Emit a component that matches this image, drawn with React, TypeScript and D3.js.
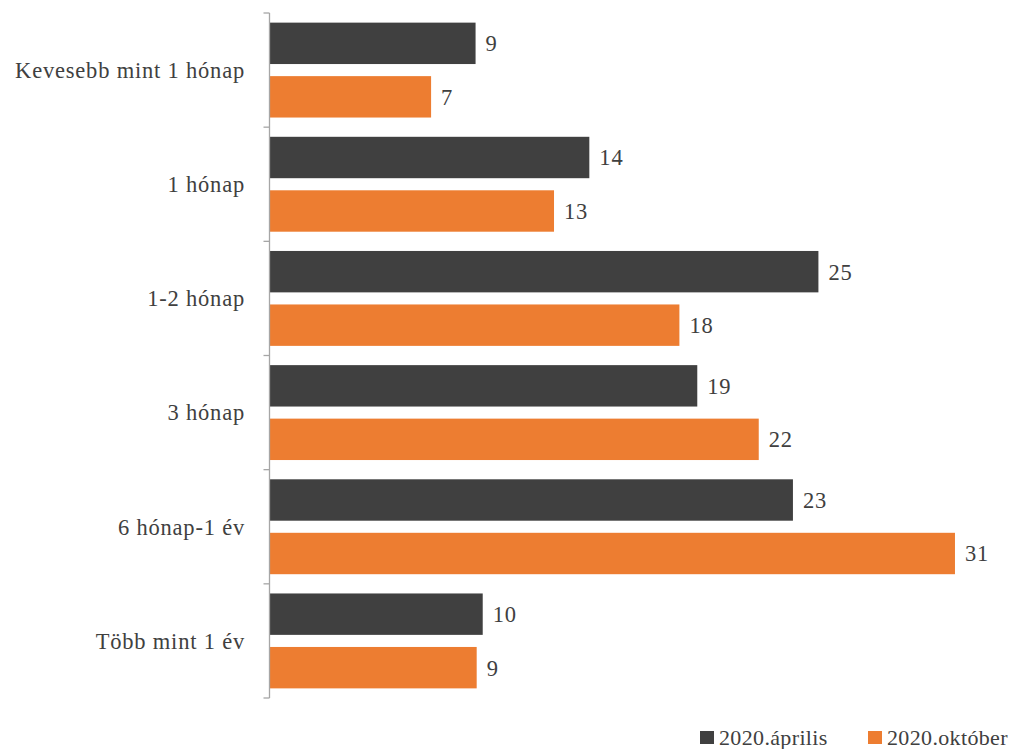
import React from "react";
import * as d3 from "d3";

const categories = [
  "Kevesebb mint 1 hónap",
  "1 hónap",
  "1-2 hónap",
  "3 hónap",
  "6 hónap-1 év",
  "Több mint 1 év",
];
const seriesNames = ["2020.április", "2020.október"];
const aprilValues = [9.22, 14.31, 24.56, 19.14, 23.42, 9.54];
const octoberValues = [7.23, 12.73, 18.34, 21.89, 30.67, 9.27];
const colors = ["#404040", "#ED7D31"];

const W = 1016;
const H = 749;
const FONT = "'Liberation Serif', serif";
const FS = 22.5;
const LS = 0.8;

export default function App() {
  const x = d3.scaleLinear().domain([0, 33]).range([269.5, 269.5 + 33 * 22.35]);
  const y = d3.scaleBand<string>().domain(categories).range([13, 698]).paddingInner(0).paddingOuter(0);
  const inner = d3
    .scaleBand<string>()
    .domain(seriesNames)
    .range([0, y.bandwidth()])
    .paddingInner(0.226)
    .paddingOuter(0.18);
  const series = [aprilValues, octoberValues];
  const tickYs = [...categories.map((c) => y(c)!), 698];

  return (
    <svg
      width={W}
      height={H}
      style={{ position: "absolute", left: 0, top: 0 }}
      fontFamily={FONT}
      letterSpacing={LS}
    >
      <rect width={W} height={H} fill="#fff" />
      {series.map((vals, si) =>
        vals.map((v, i) => {
          const yy = y(categories[i])! + inner(seriesNames[si])!;
          return (
            <g key={`${si}-${i}`}>
              <rect
                x={x(0)}
                y={yy}
                width={x(v) - x(0)}
                height={inner.bandwidth()}
                fill={colors[si]}
              />
              <text
                x={x(v) + 10}
                y={yy + inner.bandwidth() / 2}
                dy="0.35em"
                fontSize={FS}
                fill="#404040"
              >
                {d3.format(".0f")(v)}
              </text>
            </g>
          );
        })
      )}
      <line x1={x(0)} x2={x(0)} y1={13} y2={698} stroke="#a6a6a6" strokeWidth={1.3} />
      {tickYs.map((t, i) => (
        <line key={i} x1={x(0) - 6} x2={x(0)} y1={t} y2={t} stroke="#a6a6a6" strokeWidth={1.3} />
      ))}
      {categories.map((c) => (
        <text
          key={c}
          x={245}
          y={y(c)! + y.bandwidth() / 2}
          dy="0.35em"
          textAnchor="end"
          fontSize={FS}
          fill="#404040"
        >
          {c}
        </text>
      ))}
      {seriesNames.map((s, i) => {
        const lx = i === 0 ? 700 : 868;
        return (
          <g key={s}>
            <rect x={lx} y={731} width={14} height={13} fill={colors[i]} />
            <text
              x={lx + 19}
              y={737.5}
              dy="0.35em"
              fontSize={22}
              letterSpacing={0.35}
              fill="#404040"
            >
              {s}
            </text>
          </g>
        );
      })}
    </svg>
  );
}
